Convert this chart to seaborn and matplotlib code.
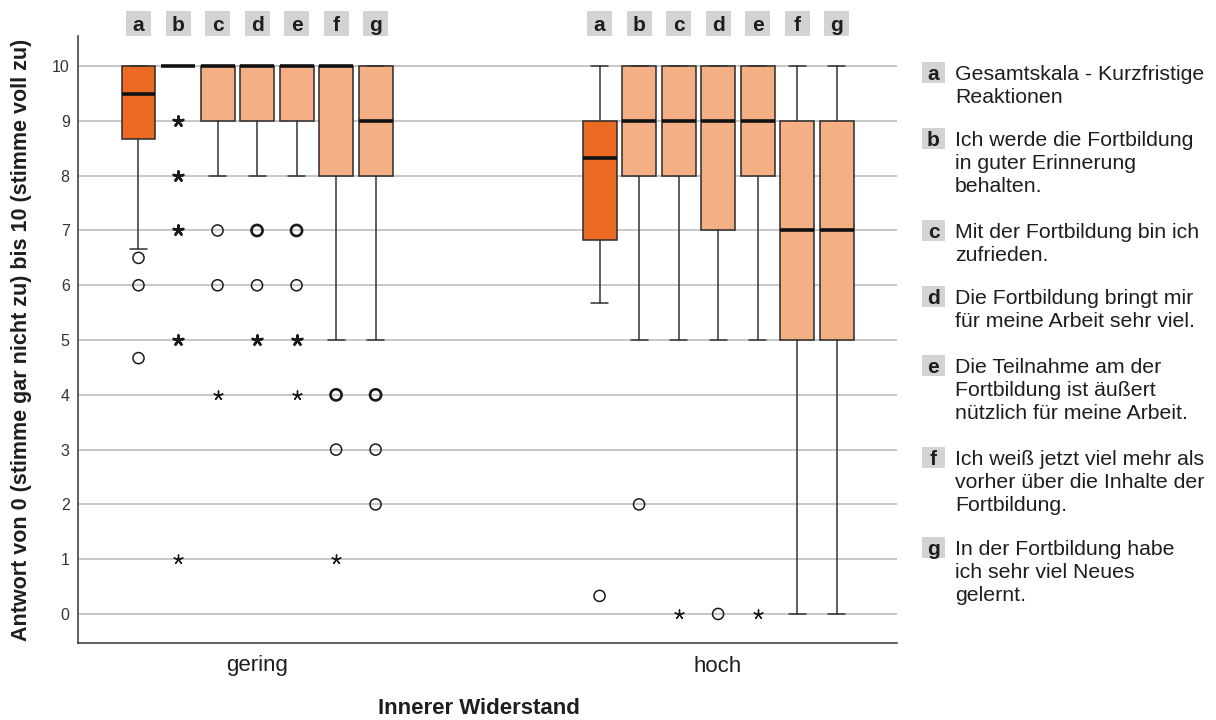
import matplotlib
matplotlib.use("Agg")
import matplotlib.pyplot as plt
from matplotlib.patches import Rectangle
import matplotlib.transforms as mtransforms
import seaborn as sns
import pandas as pd
import numpy as np

# ---------------- data ----------------
items = ["a", "b", "c", "d", "e", "f", "g"]
groups = ["gering", "hoch"]

legend_texts = [
    ["Gesamtskala - Kurzfristige", "Reaktionen"],
    ["Ich werde die Fortbildung", "in guter Erinnerung", "behalten."],
    ["Mit der Fortbildung bin ich", "zufrieden."],
    ["Die Fortbildung bringt mir", "für meine Arbeit sehr viel."],
    ["Die Teilnahme am der", "Fortbildung ist äußert", "nützlich für meine Arbeit."],
    ["Ich weiß jetzt viel mehr als", "vorher über die Inhalte der", "Fortbildung."],
    ["In der Fortbildung habe", "ich sehr viel Neues", "gelernt."],
]

whislo_gering = [6.67, 10, 8, 8, 8, 5, 5]
q1_gering = [8.67, 10, 9, 9, 9, 8, 8]
med_gering = [9.5, 10, 10, 10, 10, 10, 9]
q3_gering = [10, 10, 10, 10, 10, 10, 10]
whishi_gering = [10, 10, 10, 10, 10, 10, 10]
circles_gering = [[6.5, 6, 4.67], [], [7, 6], [7, 7, 6], [7, 7, 6], [4, 4, 3], [4, 4, 3, 2]]
stars_gering = [[], [9, 9, 8, 8, 7, 7, 5, 5, 1], [4], [5, 5], [5, 5, 4], [1], []]

whislo_hoch = [5.67, 5, 5, 5, 5, 0, 0]
q1_hoch = [6.83, 8, 8, 7, 8, 5, 5]
med_hoch = [8.33, 9, 9, 9, 9, 7, 7]
q3_hoch = [9, 10, 10, 10, 10, 9, 9]
whishi_hoch = [10, 10, 10, 10, 10, 10, 10]
circles_hoch = [[0.33], [2], [], [0], [], [], []]
stars_hoch = [[], [], [0], [], [0], [], []]

y_ticks = list(range(0, 11))
x_label = "Innerer Widerstand"
y_label = "Antwort von 0 (stimme gar nicht zu) bis 10 (stimme voll zu)"

# ---------------- style ----------------
sns.set_theme(style="white")
plt.rcParams["font.family"] = ["Liberation Sans", "DejaVu Sans"]

DARK = "#EC6B24"
LIGHT = "#F5AF85"
EDGE = "#2b2b2b"
TXT = "#1e1e1e"

W, H = 1216, 720
fig = plt.figure(figsize=(W / 100, H / 100), dpi=100)
fig.patch.set_facecolor("white")

ax_l, ax_r, ax_t, ax_b = 78, 897, 36, 643
ax = fig.add_axes([ax_l / W, 1 - ax_b / H, (ax_r - ax_l) / W, (ax_b - ax_t) / H])

step = 0.0857
bw = 0.0737

stats_by_group = {
    "gering": (whislo_gering, q1_gering, med_gering, q3_gering, whishi_gering,
               circles_gering, stars_gering),
    "hoch": (whislo_hoch, q1_hoch, med_hoch, q3_hoch, whishi_hoch,
             circles_hoch, stars_hoch),
}

rows = []
for gi, g in enumerate(groups):
    lo, q1, md, q3, hi, circ, star = stats_by_group[g]
    stats = []
    positions = []
    for i, it in enumerate(items):
        stats.append(dict(med=md[i], q1=q1[i], q3=q3[i], whislo=lo[i], whishi=hi[i],
                          fliers=[], label=it))
        positions.append(gi + (i - 3) * step)
        for v in circ[i]:
            rows.append(dict(x=gi + (i - 3) * step, y=v, kind="circle"))
        for v in star[i]:
            rows.append(dict(x=gi + (i - 3) * step, y=v, kind="star"))
    bp = ax.bxp(stats, positions=positions, widths=bw, patch_artist=True,
                showfliers=False, capwidths=bw * 0.5,
                boxprops=dict(edgecolor=EDGE, linewidth=1.1),
                whiskerprops=dict(color="#333333", linewidth=1.1),
                capprops=dict(color="#333333", linewidth=1.1),
                medianprops=dict(color="#111111", linewidth=2.6, solid_capstyle="butt"),
                manage_ticks=False, zorder=3)
    for i, patch in enumerate(bp["boxes"]):
        patch.set_facecolor(DARK if i == 0 else LIGHT)

out = pd.DataFrame(rows)
out["n"] = out.groupby(["x", "y", "kind"])["y"].transform("size")
out = out.drop_duplicates(["x", "y", "kind"])

for (kind, multi), sub in out.groupby(["kind", out["n"] > 1]):
    if kind == "circle":
        sns.scatterplot(data=sub, x="x", y="y", ax=ax, marker="o", s=64,
                        facecolor="none", edgecolor="#1a1a1a",
                        linewidth=1.9 if multi else 1.1, zorder=4, legend=False)
    else:
        sns.scatterplot(data=sub, x="x", y="y", ax=ax, marker=(5, 2, 0),
                        s=52 if multi else 42, color="#1a1a1a", edgecolor="#1a1a1a",
                        linewidth=1.8 if multi else 1.0, zorder=4, legend=False)

# axes
ax.set_xlim(-0.3883, 1.388)
ax.set_ylim(-0.53, 10.55)
ax.set_yticks(y_ticks)
ax.set_yticklabels([str(t) for t in y_ticks], fontsize=11.5, color="#333333")
ax.set_xticks([0, 1])
ax.set_xticklabels(groups, fontsize=16, color=TXT)
ax.tick_params(axis="both", length=0)
ax.tick_params(axis="y", pad=6)
ax.tick_params(axis="x", pad=9)
ax.set_xlabel("")
ax.set_ylabel("")
ax.yaxis.grid(True, color="#bdbdbd", linewidth=1.2)
ax.xaxis.grid(False)
ax.set_axisbelow(True)
for s in ["top", "right"]:
    ax.spines[s].set_visible(False)
for s in ["left", "bottom"]:
    ax.spines[s].set_color("#333333")
    ax.spines[s].set_linewidth(1.1)
ax.set_facecolor("white")

# letter tags above boxes
trans = mtransforms.blended_transform_factory(ax.transData, ax.transAxes)
tag_w = 25 / 461
tag_h = 25 / (ax_b - ax_t)
for gi in range(len(groups)):
    for i, it in enumerate(items):
        x = gi + (i - 3) * step
        ax.add_patch(Rectangle((x - tag_w / 2, 1.0), tag_w, tag_h, transform=trans,
                               facecolor="#d3d3d3", edgecolor="none", clip_on=False))
        ax.text(x, (ax_b - 31) / (ax_b - ax_t), it, transform=trans, ha="center",
                va="baseline", fontsize=15, fontweight="bold", color=TXT, clip_on=False)

# legend on the right
first_baselines = [80, 146, 238, 304, 373, 465, 555]
line_h = 23
for k, it in enumerate(items):
    b0 = first_baselines[k]
    fig.patches.append(Rectangle((922 / W, 1 - (b0 + 3) / H), 23 / W, 21 / H,
                                 transform=fig.transFigure, facecolor="#d3d3d3",
                                 edgecolor="none"))
    fig.text(933.5 / W, 1 - b0 / H, it, ha="center", va="baseline", fontsize=15,
             fontweight="bold", color=TXT)
    for j, line in enumerate(legend_texts[k]):
        fig.text(955 / W, 1 - (b0 + j * line_h) / H, line, ha="left", va="baseline",
                 fontsize=15.3, color=TXT)

fig.text(479 / W, 1 - 708 / H, x_label, ha="center", va="center", fontsize=16,
         fontweight="bold", color=TXT)
fig.text(22 / W, 1 - 339.5 / H, y_label, ha="center", va="center", rotation=90,
         fontsize=15.5, fontweight="bold", color=TXT)

fig.savefig("out.png", dpi=100, facecolor="white")
